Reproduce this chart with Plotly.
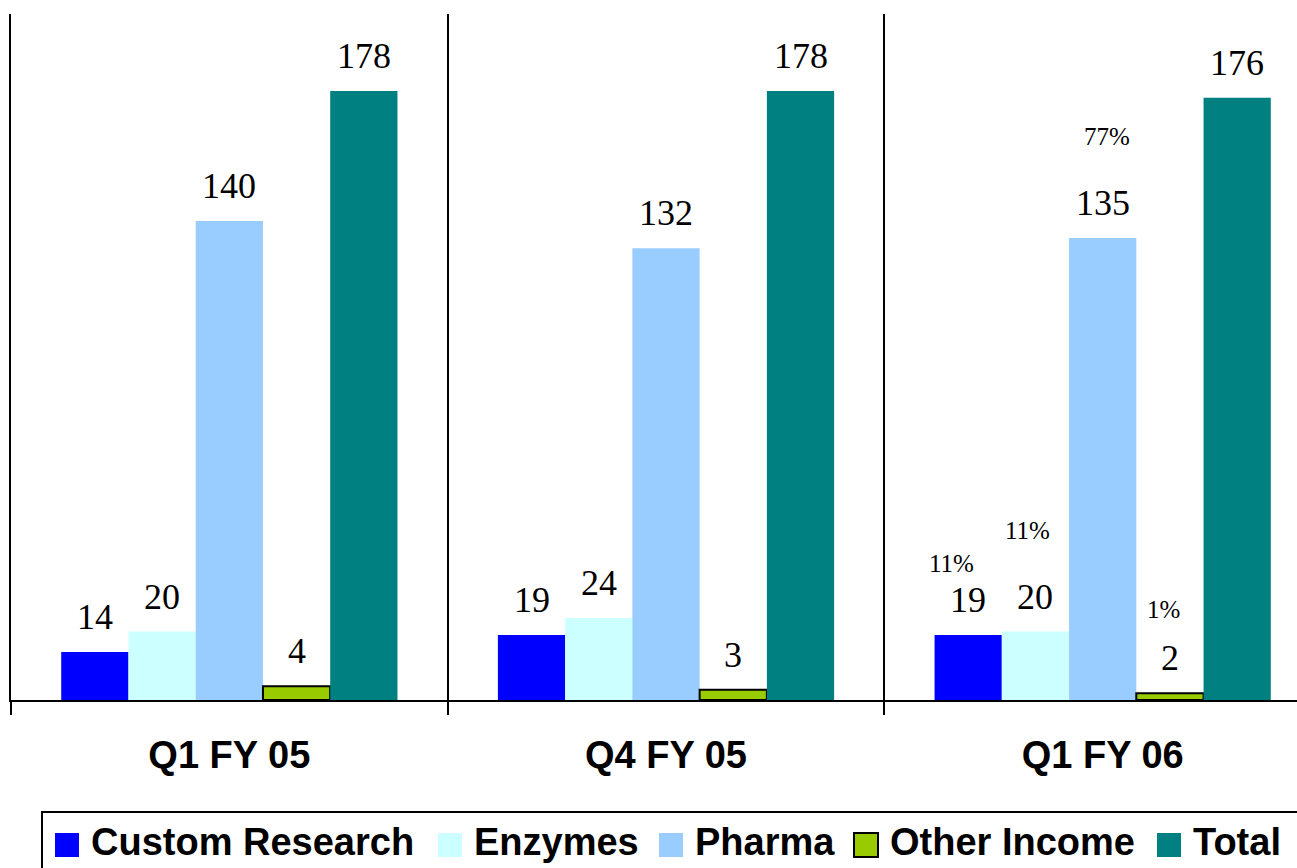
import plotly.graph_objects as go

# ---------------- data ----------------
categories = ["Q1 FY 05", "Q4 FY 05", "Q1 FY 06"]
series_names = ["Custom Research", "Enzymes", "Pharma", "Other Income", "Total"]
custom_research = [14, 19, 19]
enzymes = [20, 24, 20]
pharma = [140, 132, 135]
other_income = [4, 3, 2]
total = [178, 178, 176]
# share of total, shown only for the last quarter (per series, Total has none)
share_last_quarter = ["11%", "11%", "77%", "1%", ""]

series_values = [custom_research, enzymes, pharma, other_income, total]
colors = ["#0000FF", "#CCFFFF", "#99CCFF", "#99CC00", "#008080"]
outline_w = [0, 0, 0, 2, 0]

# ---------------- layout constants ----------------
W, H = 1297, 868
ML, MR, MT, MB = 11, 0, 14, 168
plot_w = W - ML - MR
plot_h = H - MT - MB
x_range = [-0.5, 2.445]
y_range = [0, 200.5]
bargap = 0.23
cat_px = plot_w / (x_range[1] - x_range[0])
bar_px = cat_px * (1 - bargap) / len(series_names)

SERIF = "Liberation Serif, Times New Roman, serif"
SANS = "Liberation Sans, Arial, sans-serif"

fig = go.Figure()
for name, vals, col, lw in zip(series_names, series_values, colors, outline_w):
    fig.add_trace(go.Bar(
        name=name, x=categories, y=vals,
        marker=dict(color=col, line=dict(color="black", width=lw)),
        showlegend=False, hoverinfo="skip",
    ))

annotations = []
val_yshift = 13
for j, vals in enumerate(series_values):
    for i, v in enumerate(vals):
        annotations.append(dict(
            x=categories[i], y=v, xref="x", yref="y", text=str(v),
            showarrow=False, xanchor="center", yanchor="bottom",
            xshift=(j - 2) * bar_px, yshift=val_yshift,
            font=dict(family=SERIF, size=36, color="black"),
        ))

# percentage labels placement tweaks (pixels) relative to the value labels
pct_dx = [-17, -8, 4, -6, 0]
pct_dy = [40, 70, 71, 53, 0]
last = len(categories) - 1
for j, txt in enumerate(share_last_quarter):
    if not txt:
        continue
    annotations.append(dict(
        x=categories[last], y=series_values[j][last], xref="x", yref="y", text=txt,
        showarrow=False, xanchor="center", yanchor="bottom",
        xshift=(j - 2) * bar_px + pct_dx[j], yshift=22 + pct_dy[j] - 6.5,
        font=dict(family=SERIF, size=25, color="black"),
    ))

# ---------------- manual legend ----------------
def px_x(px):
    return (px - ML) / plot_w

def px_y(py):
    return (H - MB - py) / plot_h

swatch_left = [55, 438, 659, 854, 1157]
swatch_size = 24
swatch_top = 833
text_gap = 11
shapes = [dict(type="rect", xref="paper", yref="paper",
               x0=px_x(42), x1=px_x(1330), y0=px_y(812), y1=px_y(900),
               line=dict(color="black", width=2), fillcolor="rgba(0,0,0,0)")]
for name, col, lw, sx in zip(series_names, colors, outline_w, swatch_left):
    shapes.append(dict(type="rect", xref="paper", yref="paper",
                       x0=px_x(sx), x1=px_x(sx + swatch_size),
                       y0=px_y(swatch_top + swatch_size), y1=px_y(swatch_top),
                       fillcolor=col, line=dict(color="black", width=lw) if lw else dict(width=0)))
    annotations.append(dict(
        xref="paper", yref="paper", x=px_x(sx + swatch_size + text_gap - 1), y=px_y(842),
        text=name, showarrow=False, xanchor="left", yanchor="middle",
        font=dict(family=SANS, size=38, color="black", weight="bold"),
    ))

fig.update_layout(
    width=W, height=H,
    margin=dict(l=ML, r=MR, t=MT, b=MB, pad=0),
    paper_bgcolor="white", plot_bgcolor="white",
    barmode="group", bargap=bargap, bargroupgap=0,
    annotations=annotations, shapes=shapes,
    showlegend=False,
)
fig.update_xaxes(
    type="category", categoryorder="array", categoryarray=categories,
    range=x_range, tickson="boundaries",
    ticks="outside", ticklen=13, tickwidth=2, tickcolor="black",
    showgrid=True, gridcolor="black", gridwidth=2,
    showline=True, linecolor="black", linewidth=2,
    tickfont=dict(family=SANS, size=38, color="black", weight="bold"),
    ticklabelstandoff=20,
)
fig.update_yaxes(
    range=y_range, showline=True, linecolor="black", linewidth=2,
    showgrid=False, zeroline=False, showticklabels=False, ticks="",
)

fig.write_html("out.html")
